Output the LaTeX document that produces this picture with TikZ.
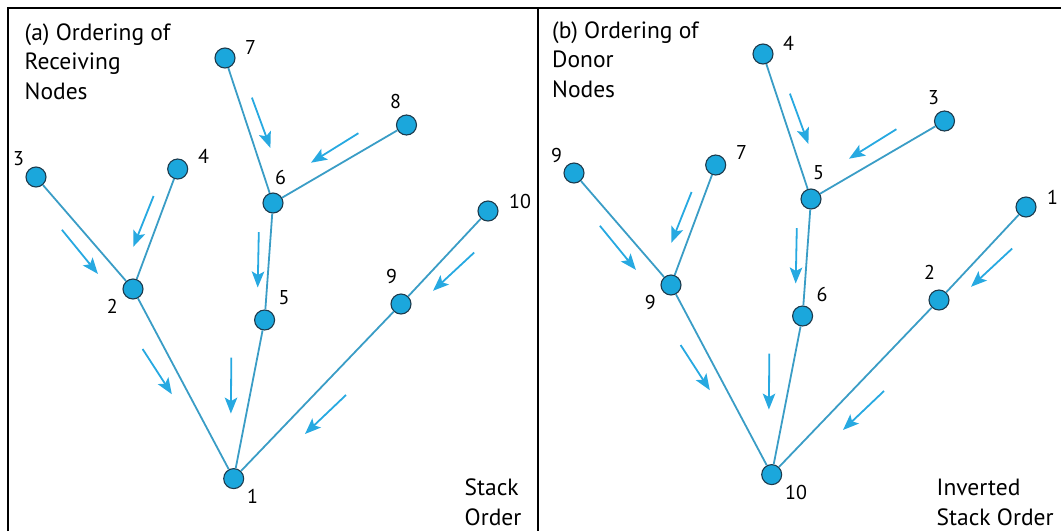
\documentclass[tikz,border=0pt]{standalone}
\usepackage{fontspec}
\setmainfont{PT Sans}
\usetikzlibrary{arrows.meta}
\definecolor{nodeblue}{HTML}{1BA7DC}
\definecolor{edgeblue}{HTML}{3A9DC6}
\definecolor{flowblue}{HTML}{27A9E1}
\definecolor{rimdark}{HTML}{1D3A4C}
\tikzset{
  vert/.style={circle,draw=rimdark,line width=1.1pt,fill=nodeblue,minimum size=20pt,inner sep=0pt},
  num/.style={anchor=west,inner sep=0pt,font=\fontsize{20}{22}\selectfont},
  link/.style={edgeblue,line width=1.8pt},
  flow/.style={flowblue,line width=1.8pt,-{Stealth[length=16pt,width=12.5pt,inset=3.5pt]}},
  caption/.style={anchor=base west,align=left,inner sep=0pt,font=\fontsize{23.5}{29.5}\selectfont}
}

\begin{document}
\begin{tikzpicture}[x=1pt,y=-1pt]
    \useasboundingbox (0,0) rectangle (1061,531);
    % frame
    \draw[line width=2pt] (8,531)--(8,7.5)--(1061,7.5);
    \draw[line width=2pt] (537.5,7.5)--(537.5,531);

    % (a) receiving nodes
    \node[vert] (a1) at (233.7,478.6) {};
    \node[vert] (a2) at (133,289) {};
    \node[vert] (a3) at (36,177) {};
    \node[vert] (a4) at (177.7,169) {};
    \node[vert] (a5) at (264.6,320) {};
    \node[vert] (a6) at (273,203) {};
    \node[vert] (a7) at (225,58) {};
    \node[vert] (a8) at (406.5,125) {};
    \node[vert] (a9) at (401,304) {};
    \node[vert] (a10) at (488,211) {};
    \draw[link] (a3)--(a2);
    \draw[link] (a4)--(a2);
    \draw[link] (a7)--(a6);
    \draw[link] (a8)--(a6);
    \draw[link] (a6)--(a5);
    \draw[link] (a2)--(a1);
    \draw[link] (a5)--(a1);
    \draw[link] (a10)--(a9);
    \draw[link] (a9)--(a1);
    \node[num] (na1) at (247,496.6) {1};
    \node[num] (na2) at (106.7,306.8) {2};
    \node[num] (na3) at (13,159) {3};
    \node[num] (na4) at (198,156) {4};
    \node[num] (na5) at (278.5,298) {5};
    \node[num] (na6) at (275,177) {6};
    \node[num] (na7) at (245,47.5) {7};
    \node[num] (na8) at (390,101.7) {8};
    \node[num] (na9) at (386,276) {9};
    \node[num] (na10) at (509,201.7) {10};
    \draw[flow] (61.9,229.8)--(97.9,273.9);
    \draw[flow] (153.6,196)--(133.3,246.8);
    \draw[flow] (251.9,97.6)--(270.4,148);
    \draw[flow] (358.4,133.2)--(311,162.7);
    \draw[flow] (258.8,232.2)--(257.7,287.5);
    \draw[flow] (142.6,349)--(171.8,394.2);
    \draw[flow] (231.3,357.6)--(230.9,413.6);
    \draw[flow] (474.2,252.5)--(433,290.8);
    \draw[flow] (346,395)--(305,434);
    \node[caption] (titleA) at (24.5,99) {(a) Ordering of\\Receiving\\Nodes};
    \node[caption] (stackA) at (464.5,525) {Stack\\Order};

    % (b) donor nodes
    \begin{scope}[shift={(538,-4)}]
        \node[vert] (b10) at (233.7,478.6) {};
        \node[vert] (b9) at (133,289) {};
        \node[vert] (b9top) at (36,177) {};
        \node[vert] (b7) at (177.7,169) {};
        \node[vert] (b6) at (264.6,320) {};
        \node[vert] (b5) at (273,203) {};
        \node[vert] (b4) at (225,58) {};
        \node[vert] (b3) at (406.5,125) {};
        \node[vert] (b2) at (401,304) {};
        \node[vert] (b1) at (488,211) {};
        \draw[link] (b9top)--(b9);
        \draw[link] (b7)--(b9);
        \draw[link] (b4)--(b5);
        \draw[link] (b3)--(b5);
        \draw[link] (b5)--(b6);
        \draw[link] (b9)--(b10);
        \draw[link] (b6)--(b10);
        \draw[link] (b1)--(b2);
        \draw[link] (b2)--(b10);
        \node[num] (nb10) at (247,496.6) {10};
        \node[num] (nb9) at (106.7,306.8) {9};
        \node[num] (nb9top) at (13,159) {9};
        \node[num] (nb7) at (198,156) {7};
        \node[num] (nb6) at (278.5,298) {6};
        \node[num] (nb5) at (275,177) {5};
        \node[num] (nb4) at (245,47.5) {4};
        \node[num] (nb3) at (390,101.7) {3};
        \node[num] (nb2) at (386,276) {2};
        \node[num] (nb1) at (509,201.7) {1};
        \draw[flow] (61.9,229.8)--(97.9,273.9);
        \draw[flow] (153.6,196)--(133.3,246.8);
        \draw[flow] (251.9,97.6)--(270.4,148);
        \draw[flow] (358.4,133.2)--(311,162.7);
        \draw[flow] (258.8,232.2)--(257.7,287.5);
        \draw[flow] (142.6,349)--(171.8,394.2);
        \draw[flow] (231.3,357.6)--(230.9,413.6);
        \draw[flow] (474.2,252.5)--(433,290.8);
        \draw[flow] (346,395)--(305,434);
        \node[caption] (titleB) at (14,101) {(b) Ordering of\\Donor\\Nodes};
    \end{scope}
    \node[caption] (stackB) at (936.5,525) {Inverted\\Stack Order};
\end{tikzpicture}
\end{document}
